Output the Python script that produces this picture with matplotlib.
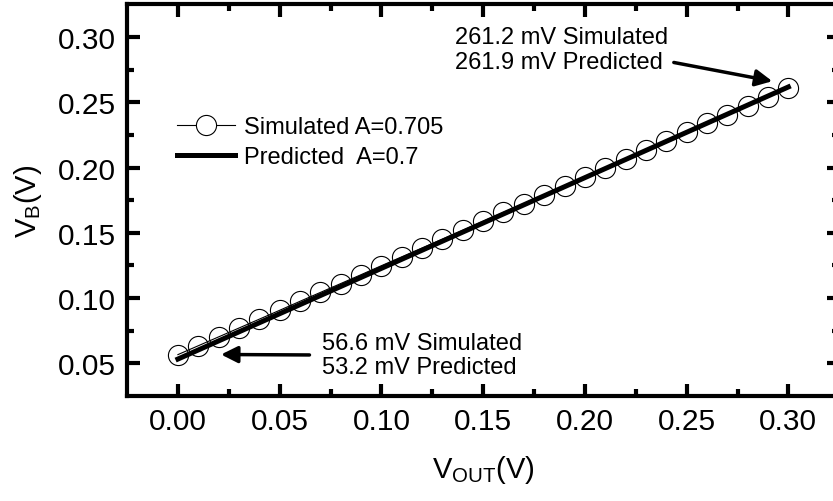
import numpy as np
import matplotlib
matplotlib.use('Agg')
import matplotlib.pyplot as plt
from matplotlib.lines import Line2D

plt.rcParams['font.family'] = ['Liberation Sans', 'DejaVu Sans']
plt.rcParams['mathtext.fontset'] = 'custom'
plt.rcParams['mathtext.rm'] = 'Liberation Sans'
plt.rcParams['mathtext.it'] = 'Liberation Sans'

# simulated V_B vs V_OUT
vout_sim = [0.00, 0.01, 0.02, 0.03, 0.04, 0.05, 0.06, 0.07, 0.08, 0.09, 0.10,
            0.11, 0.12, 0.13, 0.14, 0.15, 0.16, 0.17, 0.18, 0.19, 0.20,
            0.21, 0.22, 0.23, 0.24, 0.25, 0.26, 0.27, 0.28, 0.29, 0.30]
vb_sim = [0.0566, 0.0634, 0.0702, 0.0770, 0.0838, 0.0906, 0.0975, 0.1043,
          0.1111, 0.1179, 0.1248, 0.1316, 0.1384, 0.1452, 0.1520, 0.1589,
          0.1657, 0.1725, 0.1793, 0.1862, 0.1930, 0.1998, 0.2066, 0.2134,
          0.2203, 0.2271, 0.2339, 0.2407, 0.2476, 0.2544, 0.2612]

# predicted line end points
vout_pred = [0.00, 0.30]
vb_pred = [0.0532, 0.2619]

xticks = [0.00, 0.05, 0.10, 0.15, 0.20, 0.25, 0.30]
yticks = [0.05, 0.10, 0.15, 0.20, 0.25, 0.30]

fig = plt.figure(figsize=(8.33, 5.02), dpi=100)
ax = fig.add_axes([0.1525, 0.2095, 0.855, 0.7805])

ax.plot(vout_sim, vb_sim, color='black', lw=0.8, marker='o', ms=14.5,
        mfc='none', mec='black', mew=0.8)
ax.plot(vout_pred, vb_pred, color='black', lw=3.6)

ax.set_xlim(-0.025, 0.325)
ax.set_ylim(0.025, 0.3255)
ax.set_xticks(xticks)
ax.set_yticks(yticks)
ax.set_xticklabels(['%.2f' % v for v in xticks])
ax.set_yticklabels(['%.2f' % v for v in yticks])
ax.set_xticks([0.025, 0.075, 0.125, 0.175, 0.225, 0.275], minor=True)
ax.set_yticks([0.075, 0.125, 0.175, 0.225, 0.275], minor=True)

ax.tick_params(which='both', direction='in', top=True, right=True,
               labelsize=21.5, pad=8)
ax.tick_params(which='major', length=9, width=3)
ax.tick_params(which='minor', length=5, width=3)
for s in ax.spines.values():
    s.set_linewidth(3)

ax.set_xlabel(r'$\mathregular{V_{OUT}(V)}$', fontsize=21, labelpad=13)
ax.set_ylabel(r'$\mathregular{V_{B}(V)}$', fontsize=21, labelpad=10)

handles = [Line2D([], [], color='black', lw=0.8, marker='o', ms=14.5,
                  mfc='white', mec='black', mew=0.8),
           Line2D([], [], color='black', lw=3.6)]
ax.legend(handles, ['Simulated A=0.705', 'Predicted  A=0.7'], frameon=False,
          fontsize=17, loc='upper left', bbox_to_anchor=(0.07, 0.714),
          borderpad=0, borderaxespad=0,
          handlelength=2.45, handletextpad=0.4, labelspacing=0.33)

ax.annotate('261.2 mV Simulated\n261.9 mV Predicted', xy=(0.2921, 0.2663),
            xytext=(0.241, 0.2905), fontsize=17, ha='right', va='center',
            multialignment='left', linespacing=1.18,
            arrowprops=dict(arrowstyle='-|>', lw=2.5, color='black',
                            mutation_scale=25, shrinkA=2, shrinkB=0,
                            relpos=(1.0, 0.25)))
ax.annotate('56.6 mV Simulated\n53.2 mV Predicted', xy=(0.0212, 0.0567),
            xytext=(0.0708, 0.0563), fontsize=17, ha='left', va='center',
            linespacing=1.12,
            arrowprops=dict(arrowstyle='-|>', lw=2.5, color='black',
                            mutation_scale=25, shrinkA=7, shrinkB=0,
                            relpos=(0, 0.5)))

fig.savefig('out.png', dpi=100)
